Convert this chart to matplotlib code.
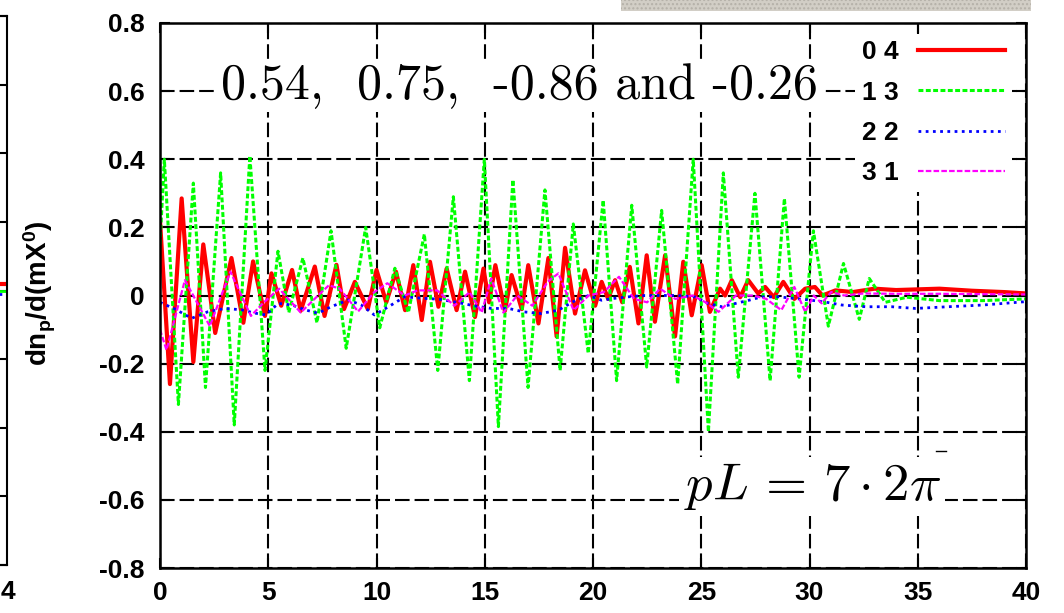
import matplotlib
matplotlib.use("Agg")
import matplotlib.pyplot as plt
from matplotlib.patches import Rectangle
from matplotlib.lines import Line2D

plt.rcParams['axes.unicode_minus'] = False
plt.rcParams['font.family'] = ['Liberation Sans', 'DejaVu Sans']
plt.rcParams['mathtext.fontset'] = 'custom'
plt.rcParams['mathtext.bf'] = 'Liberation Sans:bold'
plt.rcParams['mathtext.rm'] = 'Liberation Sans:bold'

# series "0 4" (red)
x04 = [0.0, 0.46, 1.0, 1.54, 2.0, 2.55, 3.3, 3.85, 4.3, 4.85, 5.15, 5.6, 6.1, 6.5,
       7.15, 7.6, 8.15, 8.5, 9.0, 9.6, 10.0, 10.45, 10.9, 11.32, 11.7, 12.09, 12.47,
       12.86, 13.24, 13.7, 14.09, 14.55, 14.94, 15.2, 15.49, 15.93, 16.24, 16.71,
       17.01, 17.48, 17.94, 18.32, 18.71, 19.17, 19.63, 20.1, 20.4, 20.7, 21.02,
       21.35, 21.7, 22.1, 22.48, 22.86, 23.33, 23.79, 24.17, 24.56, 25.02, 25.4,
       25.87, 26.1, 26.41, 26.8, 27.17, 27.63, 27.95, 28.35, 28.79, 29.3, 29.8,
       30.25, 30.6, 31.2, 32.0, 33.0, 34.0, 35.0, 36.0, 37.5, 39.0, 40.0]
y04 = [0.22, -0.26, 0.285, -0.195, 0.15, -0.11, 0.11, -0.08, 0.10, -0.06, 0.065,
       -0.03, 0.075, -0.045, 0.085, -0.06, 0.09, -0.04, 0.04, -0.04, 0.075, -0.02,
       0.07, -0.043, 0.089, -0.072, 0.099, -0.033, 0.079, -0.043, 0.07, -0.063,
       0.079, -0.02, 0.089, -0.045, 0.06, -0.04, 0.089, -0.082, 0.11, -0.12, 0.14,
       -0.053, 0.074, -0.03, 0.04, -0.01, 0.045, -0.02, 0.084, -0.082, 0.118,
       -0.077, 0.118, -0.12, 0.099, -0.058, 0.089, -0.048, 0.02, 0.0, 0.045,
       -0.005, 0.045, 0.006, 0.025, -0.005, 0.04, -0.01, 0.02, 0.025, 0.0, 0.015,
       0.01, 0.02, 0.016, 0.018, 0.02, 0.014, 0.01, 0.006]

# series "1 3" (green)
x13 = [0.0, 0.2, 0.85, 1.54, 2.1, 2.8, 3.43, 4.15, 4.85, 5.45, 5.95, 6.6, 7.25,
       7.9, 8.6, 9.5, 10.15, 10.85, 11.47, 12.21, 12.83, 13.55, 14.29, 14.98,
       15.63, 16.3, 17.0, 17.78, 18.48, 19.09, 19.78, 20.47, 21.09, 21.79, 22.48,
       23.17, 23.91, 24.63, 25.33, 26.02, 26.71, 27.48, 28.18, 28.84, 29.52, 30.18,
       30.87, 31.57, 32.3, 32.76, 33.5, 34.5, 36.0, 38.0, 40.0]
y13 = [0.15, 0.40, -0.32, 0.33, -0.27, 0.36, -0.38, 0.41, -0.22, 0.13, -0.05,
       0.11, -0.08, 0.19, -0.155, 0.20, -0.095, 0.08, -0.05, 0.18, -0.22, 0.29,
       -0.25, 0.40, -0.385, 0.34, -0.27, 0.31, -0.22, 0.21, -0.17, 0.28, -0.25,
       0.265, -0.21, 0.25, -0.26, 0.40, -0.40, 0.36, -0.24, 0.30, -0.25, 0.285,
       -0.24, 0.19, -0.09, 0.094, -0.07, 0.05, -0.02, -0.005, -0.015, -0.015, -0.01]

# series "2 2" (blue)
x22 = [0.0, 0.7, 1.46, 2.2, 3.0, 3.77, 4.4, 4.9, 5.46, 6.1, 6.7, 7.3, 7.9, 8.7,
       9.3, 9.9, 10.5, 11.3, 12.1, 12.9, 13.7, 14.5, 15.3, 16.1, 16.8, 17.6, 18.4,
       19.2, 19.8, 20.4, 20.9, 21.6, 22.4, 23.2, 23.9, 24.7, 25.3, 25.95, 26.6,
       27.2, 27.8, 28.6, 29.35, 30.1, 30.8, 31.5, 32.6, 33.8, 34.9, 36.4, 38.0, 40.0]
y22 = [-0.02, -0.04, -0.067, -0.048, -0.038, -0.042, -0.052, -0.057, -0.023,
       -0.028, -0.042, -0.052, -0.033, -0.013, -0.028, -0.057, -0.035, -0.004,
       -0.008, -0.011, -0.02, -0.03, -0.038, -0.038, -0.048, -0.053, -0.043,
       -0.014, 0.0, -0.014, -0.009, -0.004, 0.0, 0.0, 0.0, -0.004, -0.023, -0.033,
       -0.023, -0.014, -0.004, -0.004, -0.009, -0.014, -0.02, -0.028, -0.033,
       -0.033, -0.038, -0.033, -0.028, -0.018]

# series "3 1" (magenta)
x31 = [0.0, 0.3, 1.15, 2.3, 3.25, 4.2, 4.8, 5.5, 6.5, 7.3, 7.8, 8.3, 9.15, 9.9,
       10.5, 11.3, 11.9, 12.8, 13.6, 14.3, 14.86, 15.3, 15.86, 16.5, 17.2, 17.9,
       18.4, 19.1, 19.8, 20.5, 21.2, 21.9, 22.5, 23.1, 23.8, 24.6, 25.2, 25.8,
       26.6, 27.4, 28.0, 28.7, 29.3, 29.8, 30.2, 30.56, 31.0, 31.6, 32.5, 34.0,
       36.0, 38.0, 40.0]
y31 = [-0.10, -0.16, 0.045, -0.09, 0.07, -0.06, -0.02, 0.02, -0.05, 0.0, 0.03,
       0.02, -0.047, 0.01, 0.036, 0.0, 0.015, 0.015, -0.03, 0.01, -0.05, 0.05,
       -0.05, 0.0, -0.03, 0.04, 0.065, -0.043, 0.0, 0.01, 0.055, -0.01, -0.02,
       0.02, -0.01, 0.0, -0.02, -0.048, 0.0, 0.0, -0.01, -0.043, 0.025, -0.048,
       0.0, -0.023, 0.01, 0.0, 0.006, 0.005, 0.005, 0.004, 0.003]

labels = ['0 4', '1 3', '2 2', '3 1']
xticks = [0, 5, 10, 15, 20, 25, 30, 35, 40]
yticks = [-0.8, -0.6, -0.4, -0.2, 0, 0.2, 0.4, 0.6, 0.8]
ytick_labels = ['-0.8', '-0.6', '-0.4', '-0.2', '0', '0.2', '0.4', '0.6', '0.8']

# tail of the cut-off left panel
xl = [38.0, 40.0]
yl_red = [0.02, 0.02]
yl_blue = [-0.01, -0.01]
yl_green = [0.0, 0.0]

W, H = 1064, 613
fig = plt.figure(figsize=(W / 100, H / 100), dpi=100)

grid_ls = (0, (7, 2.4))

# left panel, only its right edge shows
axl = fig.add_axes([-100 / W, 1 - 565 / H, 107 / W, 549 / H])
axl.plot(xl, yl_red, color='#ff0000', lw=3)
axl.plot(xl, yl_green, color='#00ff00', lw=2)
axl.plot(xl, yl_blue, color='#0000ff', lw=2, ls=(0, (1, 1.5)))
axl.set_xlim(30, 40)
axl.set_ylim(-0.8, 0.8)
axl.set_yticks(yticks)
axl.set_xticks([])
axl.tick_params(direction='in', length=7, width=1.5, right=True, labelleft=False)
for s in axl.spines.values():
    s.set_linewidth(1.5)

# main panel
ax = fig.add_axes([160 / W, 1 - 568 / H, 866 / W, 545 / H])
ax.plot(x04, y04, color='#ff0000', lw=3, label=labels[0], solid_joinstyle='round')
ax.plot(x13, y13, color='#00ff00', lw=2.2, ls=(0, (1.6, 0.8)), label=labels[1])
ax.plot(x22, y22, color='#0000ff', lw=2, ls=(0, (1, 1.6)), label=labels[2])
ax.plot(x31, y31, color='#ff00ff', lw=1.6, ls=(0, (2.5, 1)), label=labels[3])

ax.set_xlim(0, 40)
ax.set_ylim(-0.8, 0.8)
ax.set_xticks(xticks)
ax.set_xticklabels([str(t) for t in xticks])
ax.set_yticks(yticks)
ax.set_yticklabels(ytick_labels)
ax.tick_params(direction='in', length=7, width=1.5, top=True, right=True,
               labelsize=19)
ax.tick_params(axis='x', pad=9)
ax.tick_params(axis='y', pad=11)
for lab in ax.get_xticklabels() + ax.get_yticklabels():
    lab.set_fontweight('bold')
ax.set_axisbelow(True)
ax.grid(True, color='black', lw=1.5, ls=grid_ls)
for s in ax.spines.values():
    s.set_linewidth(1.8)

leg = ax.legend(loc='upper right', bbox_to_anchor=(0.99, 0.99), markerfirst=False,
                handlelength=3.3, handletextpad=0.75, labelspacing=0.62,
                borderpad=0.25, borderaxespad=0.2, fancybox=False, framealpha=1,
                edgecolor='none', facecolor='white',
                prop={'family': 'Liberation Sans', 'weight': 'bold', 'size': 19})
leg.set_zorder(5)

ax.text(0.415, 0.885, '0.54,  0.75,  -0.86 and -0.26', transform=ax.transAxes,
        ha='center', va='center', fontsize=36, family=['cmr10', 'DejaVu Serif'],
        bbox=dict(facecolor='white', edgecolor='none', pad=2), zorder=4)
ax.text(0.753, 0.15, r'$pL\,=\,7\cdot2\pi$', transform=ax.transAxes,
        ha='center', va='center', fontsize=38, math_fontfamily='cm',
        bbox=dict(facecolor='white', edgecolor='none', pad=3), zorder=4)

fig.text(40 / W, 1 - 293 / H, r'$\mathbf{dn_p/d(mX^0)}$', rotation=90,
         ha='center', va='center', fontsize=20)
fig.text(8 / W, 1 - 592 / H, '4', ha='center', va='center', fontsize=19,
         fontweight='bold')

# grey strip at the top edge
fig.add_artist(Rectangle((621 / W, 1 - 11 / H), 410 / W, 11 / H,
                         transform=fig.transFigure, facecolor='#d2cec6',
                         edgecolor='#b4b0a8', hatch='....', lw=0))
fig.add_artist(Line2D([936 / W, 946 / W], [1 - 451 / H, 1 - 451 / H],
                      transform=fig.transFigure, color='black', lw=1))

fig.savefig('out.png', dpi=100)
